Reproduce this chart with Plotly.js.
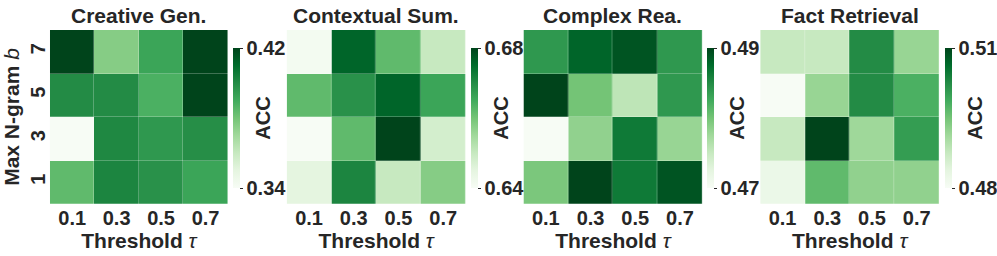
<!DOCTYPE html>
<html><head><meta charset="utf-8">
<script src="https://cdn.plot.ly/plotly-3.0.1.min.js"></script>
<style>html,body{margin:0;padding:0;background:#fff;}#chart{width:997px;height:256px;}</style>
</head><body><div id="chart"></div>
<script>
const thresholds = ['0.1','0.3','0.5','0.7'];
const ngrams = ['7','5','3','1'];
const titles = ['Creative Gen.','Contextual Sum.','Complex Rea.','Fact Retrieval'];
// rows: b = 7, 5, 3, 1 (top to bottom); columns: tau = 0.1, 0.3, 0.5, 0.7
const creativeGen = [
  [0.420, 0.376, 0.392, 0.420],
  [0.400, 0.400, 0.388, 0.421],
  [0.340, 0.401, 0.396, 0.399],
  [0.384, 0.402, 0.398, 0.392]
];
const contextualSum = [
  [0.641, 0.676, 0.662, 0.650],
  [0.662, 0.669, 0.676, 0.666],
  [0.640, 0.662, 0.680, 0.648],
  [0.645, 0.671, 0.650, 0.658]
];
const complexRea = [
  [0.484, 0.488, 0.489, 0.484],
  [0.490, 0.480, 0.4756, 0.484],
  [0.470, 0.4784, 0.4864, 0.478],
  [0.4796, 0.490, 0.4864, 0.489]
];
const factRetrieval = [
  [0.4875, 0.4875, 0.5025, 0.492],
  [0.480, 0.492, 0.5025, 0.498],
  [0.4875, 0.510, 0.4914, 0.5004],
  [0.4824, 0.4965, 0.4926, 0.4926]
];
const cbMin = [0.34, 0.64, 0.47, 0.48];
const cbMax = [0.42, 0.68, 0.49, 0.51];
const cbMinText = ['0.34','0.64','0.47','0.48'];
const cbMaxText = ['0.42','0.68','0.49','0.51'];

const panels = [creativeGen, contextualSum, complexRea, factRetrieval];
const greens = [
  [0.0,'#f7fcf5'],[0.125,'#e5f5e0'],[0.25,'#c7e9c0'],[0.375,'#a1d99b'],
  [0.5,'#74c476'],[0.625,'#41ab5d'],[0.75,'#238b45'],[0.875,'#006d2c'],[1.0,'#00441b']
];
const W = 997, H = 256;
const xPix = [[50,228],[287,466],[524,703],[761,940]];
const cbLeft = [233,471,707,945];
const yDom = [1-204/H, 1-30/H];
const font = {family:'Liberation Sans, Arial, Helvetica, sans-serif', color:'#262626'};

const data = [];
const layout = {
  width: W, height: H, margin:{l:0,r:0,t:0,b:0},
  paper_bgcolor:'#fff', plot_bgcolor:'#fff',
  font: Object.assign({size:20, weight:'bold'}, font),
  showlegend:false, annotations:[]
};
panels.forEach((z,i)=>{
  const ax = i===0 ? '' : String(i+1);
  data.push({
    type:'heatmap', z:z, x:thresholds, y:ngrams,
    xaxis:'x'+ax, yaxis:'y'+ax,
    zmin:cbMin[i], zmax:cbMax[i], colorscale:greens,
    xgap:0.25, ygap:0.25,
    hoverinfo:'skip',
    colorbar:{
      x: cbLeft[i]/W, xanchor:'left', xpad:0, ypad:0,
      y: 1-118/H, yanchor:'middle', len:140/H, lenmode:'fraction',
      thickness:7, outlinewidth:0,
      tickvals:[cbMin[i], cbMax[i]], ticktext:[cbMinText[i], cbMaxText[i]],
      ticks:'outside', ticklen:3, tickcolor:'#262626',
      tickfont: Object.assign({size:20, weight:'bold'}, font),
      title:{text:'ACC', side:'right', font: Object.assign({size:20, weight:'bold'}, font)}
    }
  });
  layout['xaxis'+ax] = {
    domain:[xPix[i][0]/W, xPix[i][1]/W], anchor:'y'+ax,
    type:'category', showgrid:false, zeroline:false, showline:false, ticks:'',
    tickfont: Object.assign({size:20, weight:'bold'}, font),
    title:{text:'<b>Threshold</b> <i>τ</i>', standoff:0, font: Object.assign({size:21, weight:'normal'}, font)}
  };
  layout['yaxis'+ax] = {
    domain:yDom, anchor:'x'+ax, type:'category', autorange:'reversed',
    showgrid:false, zeroline:false, showline:false, ticks:'',
    showticklabels: i===0, tickangle:-90,
    tickfont: Object.assign({size:20, weight:'bold'}, font),
    title: i===0 ? {text:'<b>Max N-gram</b> <i>b</i>', standoff:4, font: Object.assign({size:21, weight:'normal'}, font)} : {text:''}
  };
  layout.annotations.push({
    text: titles[i], xref:'paper', yref:'paper',
    x:(xPix[i][0]+xPix[i][1])/2/W, y:1-15/H, xanchor:'center', yanchor:'middle',
    showarrow:false, font: Object.assign({size:21, weight:'bold'}, font)
  });
});
Plotly.newPlot('chart', data, layout, {staticPlot:true, displayModeBar:false});
</script></body></html>
